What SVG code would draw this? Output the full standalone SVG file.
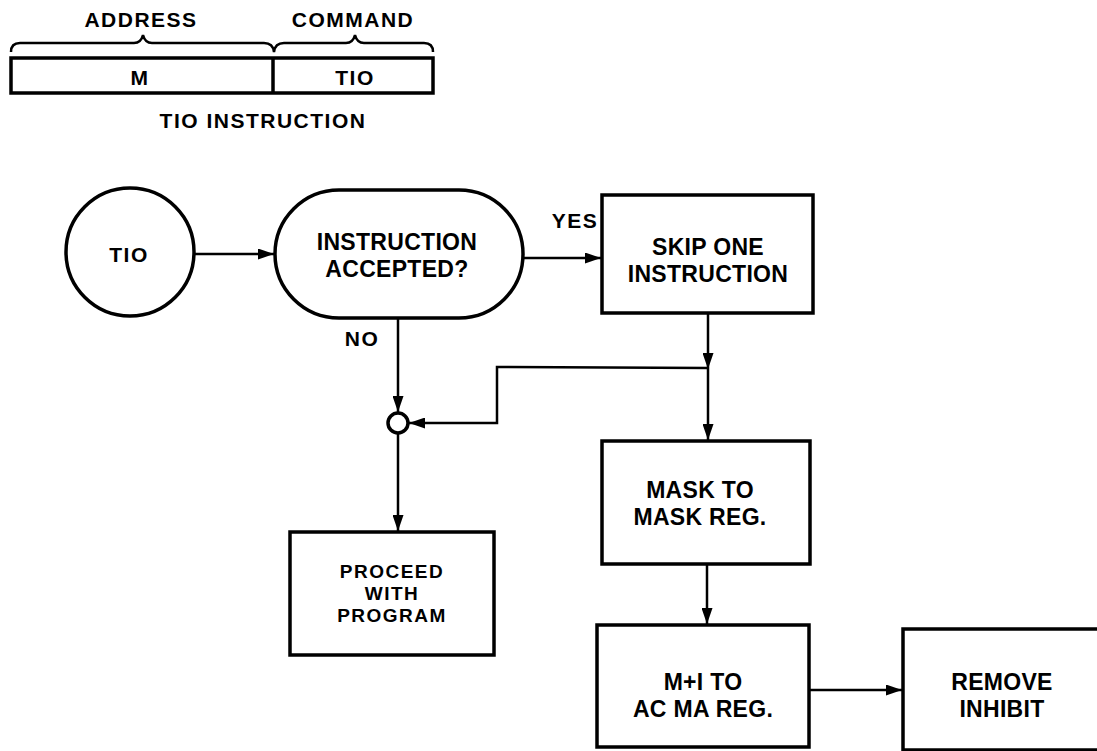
<svg xmlns="http://www.w3.org/2000/svg" width="1097" height="751" viewBox="0 0 1097 751">
<style>
.box{fill:none;stroke:#000;stroke-width:3.5}
.ln{fill:none;stroke:#000;stroke-width:2.5}
text{font-family:"Liberation Sans",Arial,sans-serif;font-weight:bold;font-size:23px;fill:#000;text-anchor:middle;letter-spacing:0.3px}
.sm{font-size:21px;letter-spacing:1.5px}
.pr{font-size:19px;letter-spacing:1.5px}
</style>
<defs>
<marker id="ah" viewBox="0 0 16 11" refX="16" refY="5.5" markerWidth="16" markerHeight="11" markerUnits="userSpaceOnUse" orient="auto">
<path d="M0,0 L16,5.5 L0,11 Z" fill="#000"/>
</marker>
</defs>
<rect width="1097" height="751" fill="#fff"/>
<g id="instruction-format">
<text class="sm" x="141" y="27">ADDRESS</text>
<text class="sm" x="353" y="27">COMMAND</text>
<path class="ln" d="M11,52 Q11,43 20,43 L134,43 Q141,43 143,35 Q145,43 152,43 L264,43 Q273,43 274,52 Q275,43 284,43 L346,43 Q353,43 355,35 Q357,43 364,43 L424,43 Q433,43 433,52"/>
<rect class="box" x="11" y="58" width="422" height="35"/>
<line class="box" x1="273" y1="58" x2="273" y2="93"/>
<text class="sm" x="140" y="85">M</text>
<text class="sm" x="355" y="85">TIO</text>
<text class="sm" x="263" y="128">TIO INSTRUCTION</text>
</g>
<g id="tio">
<circle class="box" cx="130" cy="252" r="64"/>
<text class="sm" x="129" y="262">TIO</text>
</g>
<g id="accepted">
<rect class="box" x="275" y="190" width="248" height="128" rx="64" ry="64"/>
<text x="397" y="250">INSTRUCTION</text>
<text x="397" y="277">ACCEPTED?</text>
</g>
<g id="skip">
<rect class="box" x="602" y="195" width="211" height="118"/>
<text x="708" y="255">SKIP ONE</text>
<text x="708" y="282">INSTRUCTION</text>
</g>
<g id="junction">
<circle class="box" cx="398" cy="423" r="10"/>
</g>
<g id="proceed">
<rect class="box" x="290" y="532" width="204" height="123"/>
<text class="pr" x="392" y="578">PROCEED</text>
<text class="pr" x="392" y="600">WITH</text>
<text class="pr" x="392" y="622">PROGRAM</text>
</g>
<g id="mask">
<rect class="box" x="602" y="441" width="208" height="123"/>
<text x="700" y="498">MASK TO</text>
<text x="700" y="525">MASK REG.</text>
</g>
<g id="m1">
<rect class="box" x="597" y="625" width="212" height="122"/>
<text x="703" y="690">M+I TO</text>
<text x="703" y="717">AC MA REG.</text>
</g>
<g id="remove">
<rect class="box" x="903" y="629" width="200" height="121"/>
<text x="1002" y="690">REMOVE</text>
<text x="1002" y="717">INHIBIT</text>
</g>
<g id="connectors">
<line class="ln" x1="195" y1="254" x2="274" y2="254" marker-end="url(#ah)"/>
<line class="ln" x1="523" y1="258" x2="601" y2="258" marker-end="url(#ah)"/>
<text class="sm" x="575" y="228">YES</text>
<line class="ln" x1="398" y1="318" x2="398" y2="412" marker-end="url(#ah)"/>
<text class="sm" x="362" y="346">NO</text>
<line class="ln" x1="398" y1="433" x2="398" y2="531" marker-end="url(#ah)"/>
<line class="ln" x1="708" y1="313" x2="708" y2="369" marker-end="url(#ah)"/>
<line class="ln" x1="708" y1="369" x2="708" y2="440" marker-end="url(#ah)"/>
<polyline class="ln" points="708,368 497,367 497,423 409,423" marker-end="url(#ah)"/>
<line class="ln" x1="707" y1="564" x2="707" y2="624" marker-end="url(#ah)"/>
<line class="ln" x1="809" y1="690" x2="902" y2="690" marker-end="url(#ah)"/>
</g>
</svg>
